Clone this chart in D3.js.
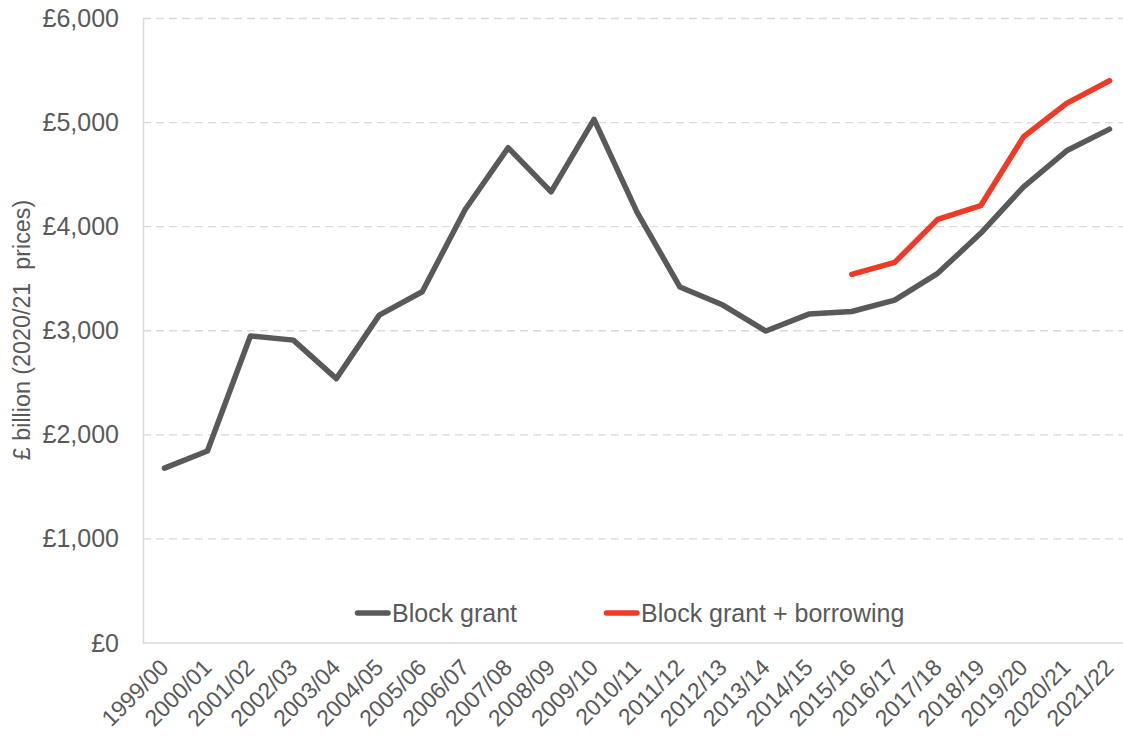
<!DOCTYPE html>
<html>
<head>
<meta charset="utf-8">
<script src="https://cdn.jsdelivr.net/npm/d3@7"></script>
<style>
  html, body { margin: 0; padding: 0; background: #fff; }
  svg { display: block; font-family: "Liberation Sans", Arial, sans-serif; }
</style>
</head>
<body>
<svg id="chart" width="1123" height="740"></svg>
<script>
// Financial years on the x axis
const years = ["1999/00","2000/01","2001/02","2002/03","2003/04","2004/05","2005/06",
  "2006/07","2007/08","2008/09","2009/10","2010/11","2011/12","2012/13","2013/14",
  "2014/15","2015/16","2016/17","2017/18","2018/19","2019/20","2020/21","2021/22"];

// Block grant, £ (2020/21 prices)
const blockGrant = [1680, 1845, 2950, 2910, 2540, 3150, 3375, 4165, 4758, 4335, 5030,
  4140, 3420, 3247, 2997, 3160, 3185, 3295, 3552, 3936, 4383, 4729, 4937];

// Block grant + borrowing, from 2015/16 onwards
const borrowYears = ["2015/16","2016/17","2017/18","2018/19","2019/20","2020/21","2021/22"];
const blockGrantBorrowing = [3542, 3657, 4070, 4201, 4864, 5185, 5402];

const yTicks = [0, 1000, 2000, 3000, 4000, 5000, 6000];
const seriesNames = ["Block grant", "Block grant + borrowing"];

const svg = d3.select("#chart");
const W = 1123, H = 740;
const plot = { left: 143, right: 1131, top: 18.5, bottom: 643 };

const x = d3.scalePoint()
  .domain(years)
  .range([plot.left, plot.right])
  .padding(0.5);

const y = d3.scaleLinear()
  .domain([0, 6000])
  .range([plot.bottom, plot.top]);

const textColor = "#595959";
const gridColor = "#d9d9d9";
const grey = "#595959";
const red = "#ee3a26";

// Horizontal dashed gridlines
svg.append("g")
  .selectAll("line")
  .data(yTicks.filter(d => d > 0))
  .join("line")
  .attr("x1", plot.left)
  .attr("x2", plot.right)
  .attr("y1", d => y(d))
  .attr("y2", d => y(d))
  .attr("stroke", gridColor)
  .attr("stroke-width", 1.3)
  .attr("stroke-dasharray", "8,5");

// Y axis
const fmt = d3.format(",");
const yAxis = svg.append("g")
  .attr("transform", `translate(${plot.left},0)`)
  .call(d3.axisLeft(y).tickValues(yTicks).tickSize(0).tickPadding(24)
    .tickFormat(d => "£" + fmt(d)));
yAxis.select(".domain").attr("stroke", gridColor).attr("stroke-width", 1.5);
yAxis.selectAll("text")
  .attr("fill", textColor)
  .attr("font-size", 25)
  .attr("font-family", "Liberation Sans, Arial, sans-serif");

// X axis with rotated year labels
const xAxis = svg.append("g")
  .attr("transform", `translate(0,${y(0)})`)
  .call(d3.axisBottom(x).tickSize(0).tickPadding(0));
xAxis.select(".domain").attr("stroke", gridColor).attr("stroke-width", 1.5)
  .attr("d", `M${plot.left},0H${plot.right}`);
xAxis.selectAll("text")
  .attr("fill", textColor)
  .attr("font-size", 23)
  .attr("font-family", "Liberation Sans, Arial, sans-serif")
  .attr("text-anchor", "end")
  .attr("dy", null)
  .attr("y", 0)
  .attr("transform", "translate(5,26) rotate(-45)");

// Y axis title
svg.append("text")
  .attr("transform", `translate(30,330) rotate(-90)`)
  .attr("text-anchor", "middle")
  .attr("fill", textColor)
  .attr("font-size", 23.3)
  .attr("xml:space", "preserve")
  .style("white-space", "pre")
  .text("£ billion (2020/21  prices)");

// Series lines
const line = d3.line().x(d => x(d[0])).y(d => y(d[1]));

svg.append("path")
  .datum(years.map((yr, i) => [yr, blockGrant[i]]))
  .attr("fill", "none")
  .attr("stroke", grey)
  .attr("stroke-width", 5.5)
  .attr("stroke-linejoin", "round")
  .attr("stroke-linecap", "round")
  .attr("d", line);

svg.append("path")
  .datum(borrowYears.map((yr, i) => [yr, blockGrantBorrowing[i]]))
  .attr("fill", "none")
  .attr("stroke", red)
  .attr("stroke-width", 5.5)
  .attr("stroke-linejoin", "round")
  .attr("stroke-linecap", "round")
  .attr("d", line);

// Legend
const legendItems = [
  { name: seriesNames[0], color: grey, x: 355 },
  { name: seriesNames[1], color: red, x: 604 }
];
const lg = svg.append("g").attr("transform", "translate(0,613)");
legendItems.forEach(it => {
  lg.append("line")
    .attr("x1", it.x + 2.5).attr("x2", it.x + 33)
    .attr("y1", 0).attr("y2", 0)
    .attr("stroke", it.color)
    .attr("stroke-width", 5.5)
    .attr("stroke-linecap", "round");
  lg.append("text")
    .attr("x", it.x + 37)
    .attr("y", 0)
    .attr("dy", "0.35em")
    .attr("fill", textColor)
    .attr("font-size", 25)
    .text(it.name);
});
</script>
</body>
</html>
